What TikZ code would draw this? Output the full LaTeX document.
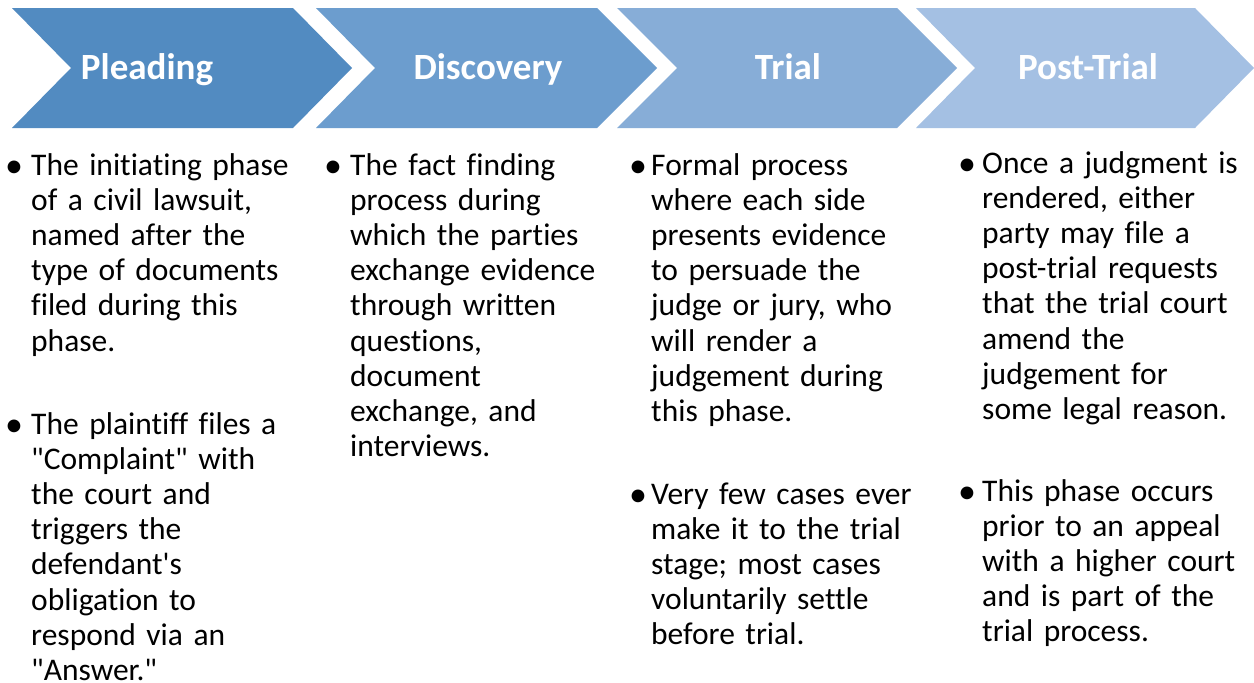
\documentclass[tikz,border=0pt]{standalone}
\usepackage{fontspec}
\setmainfont{Carlito}[Ligatures={NoCommon}]
\definecolor{cA}{RGB}{82,139,193}
\definecolor{cB}{RGB}{108,157,206}
\definecolor{cC}{RGB}{135,173,215}
\definecolor{cD}{RGB}{164,192,227}
\newcommand{\dq}{\textquotedbl}
\newcommand{\sq}{\textquotesingle}
\begin{document}
\begin{tikzpicture}[x=1pt,y=-1pt,
  phase/.style={font=\fontsize{37}{40}\selectfont\bfseries, text=white, anchor=base, inner sep=0pt},
  body/.style={font=\fontsize{31.5}{35.2}\selectfont, anchor=base west, inner sep=0pt, text width=290pt, align=left},
  bul/.style={font=\fontsize{36}{35.2}\selectfont, anchor=base, inner sep=0pt}]
\useasboundingbox (0,0) rectangle (1254,683);
\fill[white] (0,0) rectangle (1254,683);
% chevrons
\fill[cA] (12,8) -- (293,8) -- (352,68) -- (293,128) -- (12,128) -- (71,68) -- cycle;
\fill[cB] (316,8) -- (597,8) -- (657,68) -- (597,128) -- (316,128) -- (375,68) -- cycle;
\fill[cC] (617,8) -- (897,8) -- (957,68) -- (897,128) -- (617,128) -- (677,68) -- cycle;
\fill[cD] (916,8) -- (1195,8) -- (1254,68) -- (1195,128) -- (916,128) -- (975,68) -- cycle;
\node[phase] (h1) at (147,79) {Pleading};
\node[phase] (h2) at (488,79) {Discovery};
\node[phase] (h3) at (788,79) {Trial};
\node[phase] (h4) at (1088,79) {Post-Trial};
% column 1
\node[bul] (b11) at (14,177) {•};
\node[body] (t11) at (31,175) {The initiating phase\\of a civil lawsuit,\\named after the\\type of documents\\filed during this\\phase.};
\node[bul] (b12) at (14,436) {•};
\node[body] (t12) at (31,434) {The plaintiff files a\\\dq Complaint\dq{} with\\the court and\\triggers the\\defendant\sq s\\obligation to\\respond via an\\\dq Answer.\dq};
% column 2
\node[bul] (b21) at (333,177) {•};
\node[body] (t21) at (350,175) {The fact finding\\process during\\which the parties\\exchange evidence\\through written\\questions,\\document\\exchange, and\\interviews.};
% column 3
\node[bul] (b31) at (638,177) {•};
\node[body] (t31) at (651,175) {Formal process\\where each side\\presents evidence\\to persuade the\\judge or jury, who\\will render a\\judgement during\\this phase.};
\node[bul] (b32) at (638,506) {•};
\node[body] (t32) at (651,504) {Very few cases ever\\make it to the trial\\stage; most cases\\voluntarily settle\\before trial.};
% column 4
\node[bul] (b41) at (967,175) {•};
\node[body] (t41) at (982,173) {Once a judgment is\\rendered, either\\party may file a\\post-trial requests\\that the trial court\\amend the\\judgement for\\some legal reason.};
\node[bul] (b42) at (967,503) {•};
\node[body] (t42) at (982,501) {This phase occurs\\prior to an appeal\\with a higher court\\and is part of the\\trial process.};
\end{tikzpicture}
\end{document}
